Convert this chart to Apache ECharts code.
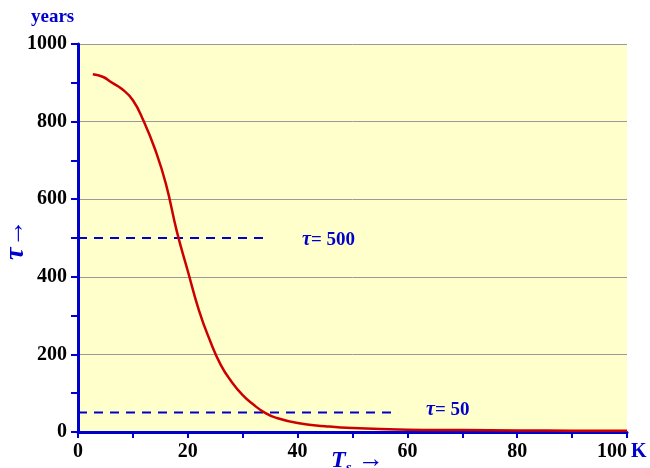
<!DOCTYPE html>
<html><head><meta charset="utf-8">
<script src="https://cdn.jsdelivr.net/npm/echarts@6/dist/echarts.min.js"></script>
<style>html,body{margin:0;padding:0;background:#fff}#c{width:650px;height:468px}</style>
</head><body><div id="c"></div>
<script>
const tempK = [2.7, 4.6, 6, 8, 10, 12, 14, 16, 18, 20, 22, 24, 26, 28, 30, 32, 34, 36, 40, 45, 50, 60, 70, 80, 90, 100];
const tauYears = [922, 915, 902, 884, 855, 800, 730, 640, 517, 415, 315, 237, 173, 129, 95, 70, 50, 37, 23, 15, 10, 6, 5, 4, 3.5, 3];
const ref500 = [[0, 500], [34.6, 500]];
const ref50 = [[0, 50], [58.3, 50]];
const xTicks = [0, 20, 40, 60, 80, 100];
const yTicks = [0, 200, 400, 600, 800, 1000];

const FONT = '"Liberation Serif","Times New Roman",serif';
const BLUE = '#0000CC';
const chart = echarts.init(document.getElementById('c'), null, {renderer: 'canvas'});
chart.setOption({
  animation: false,
  grid: {left: 78, right: 23, top: 44, bottom: 36, show: true, backgroundColor: '#FFFFCC', borderWidth: 0},
  xAxis: {
    type: 'value', min: xTicks[0], max: xTicks[xTicks.length - 1], interval: 20,
    axisLine: {show: true, onZero: false, lineStyle: {color: BLUE, width: 3}},
    axisTick: {show: true, length: 6, lineStyle: {color: BLUE, width: 2}},
    minorTick: {show: true, splitNumber: 2, length: 6, lineStyle: {color: BLUE, width: 2}},
    splitLine: {show: false},
    axisLabel: {color: '#000', fontFamily: FONT, fontWeight: 'bold', fontSize: 20, margin: 10, alignMaxLabel: 'right', formatter: v => String(v)}
  },
  yAxis: {
    type: 'value', min: yTicks[0], max: yTicks[yTicks.length - 1], interval: 200,
    axisLine: {show: true, lineStyle: {color: BLUE, width: 3}},
    axisTick: {show: true, length: 7, lineStyle: {color: BLUE, width: 2}},
    minorTick: {show: true, splitNumber: 2, length: 7, lineStyle: {color: BLUE, width: 2}},
    splitLine: {show: true, lineStyle: {color: '#999999', width: 1}},
    axisLabel: {color: '#000', fontFamily: FONT, fontWeight: 'bold', fontSize: 20, margin: 11, formatter: v => String(v)}
  },
  series: [
    {type: 'line', data: tempK.map((t, i) => [t, tauYears[i]]), smooth: 0.5, showSymbol: false,
     lineStyle: {color: '#CC0000', width: 2.5}, z: 3},
    {type: 'line', data: ref500, showSymbol: false,
     lineStyle: {color: BLUE, width: 2, type: [9, 7]}, z: 2},
    {type: 'line', data: ref50, showSymbol: false,
     lineStyle: {color: BLUE, width: 2, type: [9, 7]}, z: 2}
  ],
  graphic: [
    {type: 'text', left: 31, top: 8, style: {text: 'years', fill: BLUE, font: 'bold 19px ' + FONT}},
    {type: 'text', x: 631, y: 442, style: {text: 'K', fill: BLUE, font: 'bold 20px ' + FONT}},
    {type: 'text', x: 302, y: 230, style: {rich: {a: {fill: BLUE, font: 'italic bold 20px ' + FONT}, b: {fill: BLUE, font: 'bold 19px ' + FONT}}, text: '{a|τ}{b|= 500}'}},
    {type: 'text', x: 426, y: 400, style: {rich: {a: {fill: BLUE, font: 'italic bold 20px ' + FONT}, b: {fill: BLUE, font: 'bold 19px ' + FONT}}, text: '{a|τ}{b|= 50}'}},
    {type: 'text', x: 331, y: 445, style: {rich: {a: {fill: BLUE, font: 'italic bold 24px ' + FONT}, s: {fill: BLUE, font: 'italic bold 15px ' + FONT, padding: [16, 0, 0, 0]}, b: {fill: BLUE, font: '26px ' + FONT}}, text: '{a|T}{s|s}{b| →}'}},
    {type: 'text', x: 2, y: 260, rotation: Math.PI / 2, style: {rich: {a: {fill: BLUE, font: 'italic bold 28px ' + FONT}, b: {fill: BLUE, font: '28px ' + FONT}}, text: '{a|τ}{b|→}'}}
  ]
});
</script></body></html>
